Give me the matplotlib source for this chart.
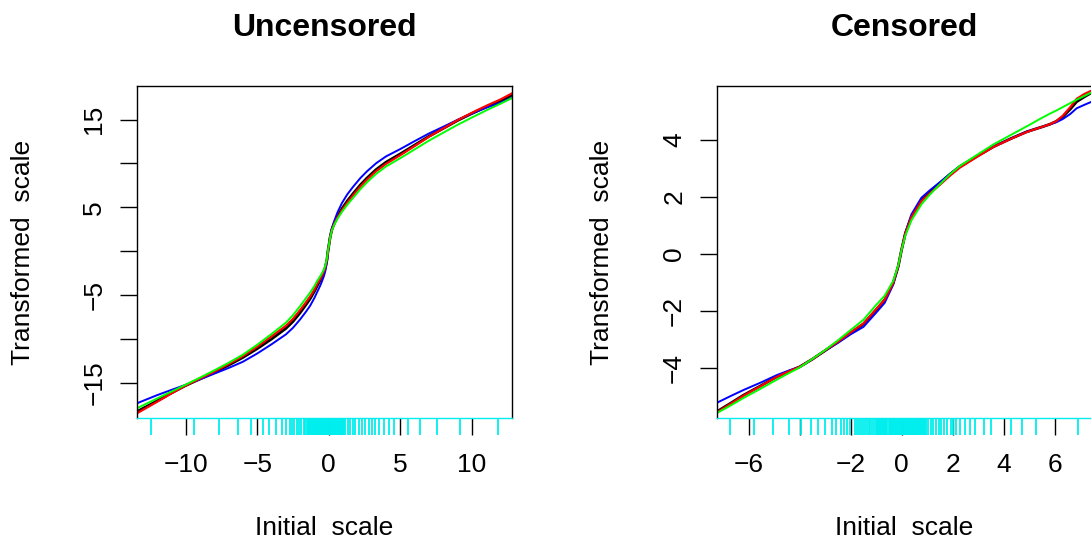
import matplotlib
matplotlib.use("Agg")
import matplotlib.pyplot as plt
import matplotlib.transforms as mtransforms

plt.rcParams['font.family'] = ['Liberation Sans', 'DejaVu Sans']

# ---- Uncensored panel ----
unc_x = [-13.4, -12, -11, -10, -9, -8, -7, -6, -5, -4, -3, -2.5, -2, -1.6, -1.3, -1.0, -0.8,
         -0.6, -0.48, -0.35, -0.25, -0.13, -0.06, 0.0, 0.1, 0.22, 0.38, 0.6, 0.92, 1.3, 1.69,
         2.2, 2.67, 3.3, 4, 5, 6, 7, 8, 9, 10, 11, 12, 12.8]
unc_black = [-18.27, -17.05, -16.15, -15.3, -14.55, -13.8, -12.98, -12.1, -11.1, -10.0, -8.8,
             -8.0, -7.0, -6.1, -5.4, -4.55, -3.9, -3.3, -2.89, -2.4, -1.9, -0.99, 0.0, 0.6, 1.66,
             2.5, 3.19, 3.95, 4.85, 5.75, 6.55, 7.55, 8.35, 9.3, 10.15, 11.1, 12.1, 13.1, 14.0,
             14.9, 15.7, 16.45, 17.15, 17.8]
unc_blue = [-17.32, -16.40, -15.80, -15.22, -14.60, -13.95, -13.30, -12.59, -11.65, -10.60, -9.48,
            -8.72, -7.76, -6.90, -6.20, -5.30, -4.60, -3.92, -3.44, -2.87, -2.30, -1.29, -0.20, 0.6,
            1.76, 2.65, 3.44, 4.40, 5.50, 6.50, 7.33, 8.33, 9.11, 10.02, 10.81, 11.65, 12.55, 13.42,
            14.19, 14.98, 15.70, 16.35, 16.92, 17.50]
unc_green = [-17.89, -16.78, -16.00, -15.20, -14.40, -13.57, -12.71, -11.78, -10.65, -9.43, -8.14,
             -7.28, -6.24, -5.36, -4.70, -3.95, -3.35, -2.85, -2.51, -2.10, -1.65, -0.84, 0.10, 0.6,
             1.61, 2.40, 3.00, 3.69, 4.49, 5.32, 6.07, 7.06, 7.86, 8.81, 9.66, 10.61, 11.61, 12.61,
             13.51, 14.41, 15.24, 16.05, 16.82, 17.45]
unc_red = [-18.46, -17.16, -16.20, -15.30, -14.51, -13.72, -12.86, -11.95, -10.88, -9.70, -8.50,
           -7.70, -6.70, -5.83, -5.15, -4.35, -3.71, -3.15, -2.77, -2.30, -1.82, -0.94, 0.0, 0.6,
           1.66, 2.45, 3.11, 3.83, 4.67, 5.56, 6.36, 7.36, 8.16, 9.11, 9.96, 10.95, 11.99, 13.05,
           14.00, 14.94, 15.78, 16.57, 17.30, 17.99]
unc_rug = [-12.43, -9.41, -7.66, -6.31, -5.44, -4.63, -4.16, -3.69, -3.27, -3.0, -2.74, -2.57, -2.41,
           -2.22, -2.06, -1.92, -1.76, -1.64,
           -1.5, -1.44, -1.38, -1.33, -1.27, -1.22, -1.16, -1.11, -1.05, -1.0, -0.95, -0.9, -0.85,
           -0.8, -0.75, -0.7, -0.65, -0.6, -0.55, -0.5, -0.46, -0.41, -0.36, -0.32, -0.27, -0.22,
           -0.18, -0.13, -0.09, -0.04, 0.0, 0.05, 0.09, 0.14, 0.19, 0.23, 0.28, 0.33, 0.38, 0.43,
           0.48, 0.53, 0.58, 0.63, 0.68, 0.74, 0.8, 0.86, 0.92, 0.98, 1.03,
           1.15, 1.31, 1.5, 1.69, 1.85, 2.08, 2.32, 2.55, 2.78, 3.02, 3.25, 3.48, 3.88, 4.23, 4.53,
           5.51, 6.4, 7.56, 9.2, 11.83]
unc_xticks = [-10, -5, 0, 5, 10]
unc_xlabels = ['\u221210', '\u22125', '0', '5', '10']
unc_yticks = [-15, -10, -5, 0, 5, 10, 15]
unc_ylabels = ['\u221215', '', '\u22125', '', '5', '', '15']

# ---- Censored panel ----
cen_x = [-7.25, -6.7, -6.2, -5.5, -4.9, -4.4, -4.0, -3.5, -3.0, -2.5, -2.0, -1.5, -1.0, -0.67,
         -0.34, -0.14, -0.01, 0.14, 0.38, 0.77, 1.1, 1.49, 1.9, 2.27, 3.0, 3.6, 4.3, 4.9, 5.5,
         5.8, 6.05, 6.3, 6.6, 6.85, 7.15, 7.44]
cen_black = [-5.52, -5.22, -4.94, -4.6, -4.3, -4.1, -3.95, -3.68, -3.38, -3.08, -2.76, -2.45, -1.95,
             -1.61, -1.03, -0.44, 0.14, 0.72, 1.31, 1.89, 2.18, 2.48, 2.8, 3.06, 3.45, 3.76, 4.05,
             4.28, 4.45, 4.54, 4.64, 4.8, 5.07, 5.33, 5.5, 5.65]
cen_blue = [-5.21, -4.97, -4.76, -4.49, -4.24, -4.07, -3.95, -3.68, -3.38, -3.11, -2.81, -2.55, -2.05,
            -1.71, -1.08, -0.44, 0.14, 0.75, 1.39, 1.97, 2.23, 2.51, 2.81, 3.06, 3.45, 3.76, 4.05,
            4.28, 4.45, 4.54, 4.61, 4.72, 4.90, 5.10, 5.22, 5.33]
cen_green = [-5.57, -5.3, -5.04, -4.7, -4.4, -4.16, -3.97, -3.67, -3.36, -3.02, -2.66, -2.3, -1.78,
             -1.46, -0.95, -0.4, 0.14, 0.65, 1.18, 1.74, 2.08, 2.44, 2.8, 3.08, 3.5, 3.84, 4.18,
             4.47, 4.77, 4.91, 5.02, 5.14, 5.28, 5.4, 5.53, 5.66]
cen_red = [-5.55, -5.24, -4.96, -4.61, -4.3, -4.1, -3.95, -3.68, -3.37, -3.07, -2.74, -2.43, -1.93,
           -1.6, -1.02, -0.42, 0.14, 0.72, 1.29, 1.85, 2.12, 2.42, 2.75, 3.02, 3.43, 3.75, 4.04,
           4.27, 4.45, 4.54, 4.65, 4.83, 5.14, 5.43, 5.6, 5.72]
cen_rug = [-6.71, -5.78, -5.06, -4.42, -3.93, -3.54, -3.27, -2.99, -2.73, -2.56, -2.40, -2.26, -2.14,
           -2.04, -1.84, -1.75, -1.67, -1.6, -1.52, -1.45, -1.38, -1.3, -1.23, -1.16, -1.09, -1.02,
           -0.96, -0.92, -0.88, -0.84, -0.8, -0.76, -0.72, -0.68, -0.64, -0.6, -0.56, -0.52, -0.48,
           -0.44, -0.4, -0.36, -0.32, -0.28, -0.24, -0.2, -0.16, -0.12, -0.08, -0.04, 0.0, 0.04,
           0.08, 0.12, 0.16, 0.2, 0.24, 0.28, 0.32, 0.36, 0.4, 0.44, 0.48, 0.52, 0.56, 0.6, 0.64,
           0.68, 0.72, 0.76, 0.8, 0.84, 0.88, 0.92, 0.96,
           1.03, 1.13, 1.23, 1.33, 1.44, 1.55, 1.66, 1.78, 1.91, 2.02, 2.14, 2.30, 2.47, 2.66, 2.88,
           3.21, 3.51, 4.27, 4.71, 5.27, 6.90]
cen_xticks = [-6, -4, -2, 0, 2, 4, 6]
cen_xlabels = ['\u22126', '', '\u22122', '0', '2', '4', '6']
cen_yticks = [-4, -2, 0, 2, 4]
cen_ylabels = ['\u22124', '\u22122', '0', '2', '4']

RUG_COL = '#00EEEE'
W, H = 1091, 544


def draw_panel(ax, title, x, curves, rug, xlim, ylim, xticks, xlabels, yticks, ylabels, ylab_x):
    for y, col, lw in curves:
        ax.plot(x, y, color=col, lw=lw)
    ax.set_xlim(xlim)
    ax.set_ylim(ylim)

    ax.set_xticks(xticks)
    ax.set_xticklabels(xlabels)
    ax.set_yticks(yticks)
    ax.set_yticklabels(ylabels, rotation=90, va='center')
    ax.tick_params(direction='out', length=12, width=1.0, labelsize=19, pad=13)
    ax.tick_params(axis='y', pad=10)

    for s in ax.spines.values():
        s.set_linewidth(1.0)
    ax.spines['bottom'].set_color(RUG_COL)
    ax.spines['bottom'].set_zorder(4)

    # rug under the x axis
    trans = mtransforms.blended_transform_factory(ax.transData, ax.transAxes)
    tick_len = 17.0 / (ax.get_position().height * H)
    ax.vlines(rug, -tick_len, 0, colors=RUG_COL, lw=1.3, transform=trans,
              clip_on=False, zorder=3)

    ax.set_title(title, fontsize=23, fontweight='bold', pad=36)
    ax.set_xlabel('Initial  scale', fontsize=19, va='center')
    ax.set_ylabel('Transformed  scale', fontsize=19, va='center')
    ax.xaxis.set_label_coords(0.5, (418 - 528) / 332)
    ax.yaxis.set_label_coords((ylab_x - ax.get_position().x0 * W) / 375, 0.5)


fig = plt.figure(figsize=(W / 100, H / 100), dpi=100)
ax1 = fig.add_axes([137 / W, (H - 418) / H, 375 / W, 332 / H])
ax2 = fig.add_axes([716.7 / W, (H - 418) / H, 375 / W, 332 / H])

draw_panel(ax1, 'Uncensored', unc_x,
           [(unc_black, 'black', 2.0), (unc_blue, 'blue', 1.4),
            (unc_red, 'red', 1.6), (unc_green, '#00FF00', 1.4)],
           unc_rug, (-13.4, 12.8), (-19.0, 18.83),
           unc_xticks, unc_xlabels, unc_yticks, unc_ylabels, 23)
draw_panel(ax2, 'Censored', cen_x,
           [(cen_black, 'black', 2.0), (cen_blue, 'blue', 1.4),
            (cen_red, 'red', 1.6), (cen_green, '#00FF00', 1.4)],
           cen_rug, (-7.25, 7.44), (-5.74, 5.88),
           cen_xticks, cen_xlabels, cen_yticks, cen_ylabels, 602)

fig.savefig('out.png', dpi=100)
